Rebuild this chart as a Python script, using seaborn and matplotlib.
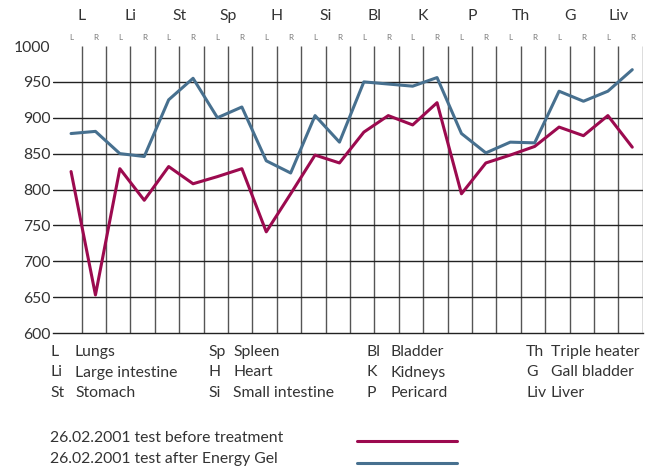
import matplotlib
matplotlib.use("Agg")
import matplotlib.pyplot as plt
from matplotlib.lines import Line2D
import numpy as np
import pandas as pd
import seaborn as sns

meridians = ["L", "Li", "St", "Sp", "H", "Si", "Bl", "K", "P", "Th", "G", "Liv"]
names = ["Lungs", "Large intestine", "Stomach", "Spleen", "Heart", "Small intestine",
         "Bladder", "Kidneys", "Pericard", "Triple heater", "Gall bladder", "Liver"]
sides = ["L", "R"]
before = [825, 653, 829, 785, 832, 808, 818, 829, 741, 794, 848, 837,
          880, 903, 890, 921, 794, 837, 848, 860, 887, 875, 903, 859]
after = [878, 881, 850, 846, 925, 955, 900, 915, 840, 823, 903, 866,
         950, 947, 944, 956, 878, 851, 866, 865, 937, 923, 937, 967]
series = ["26.02.2001 test before treatment", "26.02.2001 test after Energy Gel"]
colors = ["#9c0a4f", "#47708f"]

sns.set_style("white")
plt.rcParams["font.family"] = ["Lato", "DejaVu Sans"]
text_color = "#333333"
fs = 11.3

W, H = 651, 469
fig = plt.figure(figsize=(W / 100, H / 100), dpi=100)
ax = fig.add_axes([53 / W, 1 - 333 / H, (643 - 53) / W, (333 - 46) / H])

n = len(before)
df = pd.DataFrame({
    "pos": list(range(n)) * 2,
    "value": before + after,
    "series": [series[0]] * n + [series[1]] * n,
})

# grid first so the series sit on top
line_x = np.arange(n) + 0.43
ax.vlines(line_x, 600, 1000, color="#555555", lw=1, zorder=1)
for y in range(650, 1000, 50):
    ax.axhline(y, color="#222222", lw=1, zorder=1)

sns.lineplot(data=df, x="pos", y="value", hue="series", palette=colors,
             lw=2.2, legend=False, ax=ax, zorder=3)

ax.set_xlim(-0.74, 23.44)
ax.set_ylim(600, 1000)
ax.set_yticks(range(600, 1001, 50))
ax.set_xticks(line_x)
ax.set_xticklabels([])
ax.tick_params(axis="y", length=0, pad=2, labelsize=fs, labelcolor=text_color)
ax.tick_params(axis="x", length=3.5, width=1, color="#555555", direction="out")
ax.set_xlabel("")
ax.set_ylabel("")
for side in ["left", "right", "top"]:
    ax.spines[side].set_visible(False)
ax.spines["bottom"].set_color("#222222")
ax.spines["bottom"].set_linewidth(1)

# meridian names and L / R markers on top
tr = ax.get_xaxis_transform()
for m, abbr in enumerate(meridians):
    ax.text(2 * m + 0.43, 1.105, abbr, transform=tr, ha="center", va="center",
            fontsize=fs, color=text_color)
    for s, side in enumerate(sides):
        ax.text(2 * m + s, 1.031, side, transform=tr, ha="center", va="center",
                fontsize=5.8, color="#777777")

# abbreviation key
col_x = [50, 208, 366, 526]
row_y = [352, 372.5, 392.5]
for i, (abbr, name) in enumerate(zip(meridians, names)):
    c, r = divmod(i, 3)
    fig.text(col_x[c] / W, 1 - row_y[r] / H, abbr, ha="left", va="center",
             fontsize=fs, color=text_color)
    fig.text((col_x[c] + 25) / W, 1 - row_y[r] / H, name, ha="left", va="center",
             fontsize=fs, color=text_color)

# series key
for label, color, ty, ly in zip(series, colors, [438, 459], [440.5, 463]):
    fig.text(50 / W, 1 - ty / H, label, ha="left", va="center",
             fontsize=fs, color=text_color)
    fig.add_artist(Line2D([357 / W, 457 / W], [1 - ly / H] * 2, lw=2.2, color=color))

fig.savefig("out.png", dpi=100)
